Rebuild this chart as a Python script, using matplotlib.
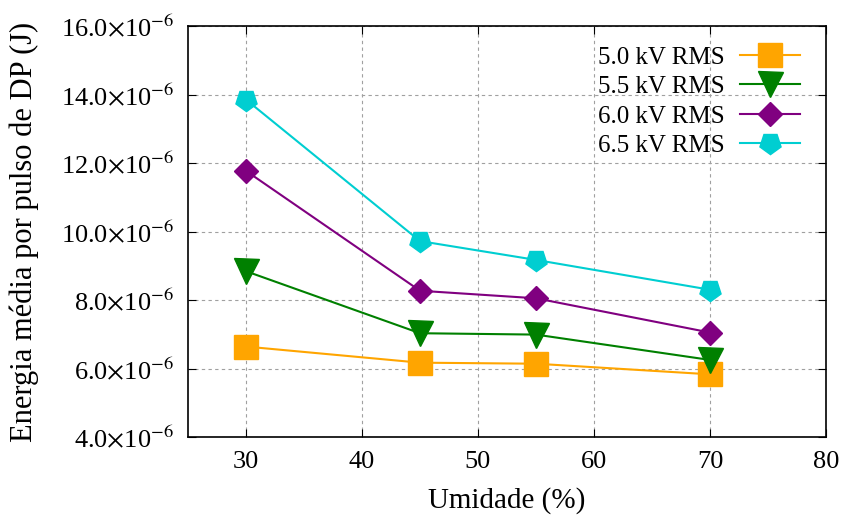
#!/usr/bin/env python3
import matplotlib
matplotlib.use("Agg")
import matplotlib.pyplot as plt
from matplotlib.ticker import FuncFormatter, MultipleLocator

humidity = [30, 45, 55, 70]
energy_50 = [6.64, 6.17, 6.14, 5.83]
energy_55 = [8.84, 7.03, 6.99, 6.25]
energy_60 = [11.77, 8.27, 8.05, 7.05]
energy_65 = [13.85, 9.72, 9.17, 8.30]
labels = ["5.0 kV RMS", "5.5 kV RMS", "6.0 kV RMS", "6.5 kV RMS"]

plt.rcParams["font.family"] = ["Liberation Serif", "DejaVu Serif"]
plt.rcParams["mathtext.fontset"] = "stix"

fig = plt.figure(figsize=(8.44, 5.15), dpi=100)
ax = fig.add_axes([188 / 844, 1 - 437 / 515, (826 - 188) / 844, (437 - 26) / 515])

# gnuplot style: square, down triangle, diamond, upside-down pentagon
series = [
    (energy_50, "#FFA500", "s", 17),
    (energy_55, "#008000", "v", 18),
    (energy_60, "#800080", "D", 12),
    (energy_65, "#00CED1", (5, 0, 180), 16),
]
for (vals, color, marker, ms), label in zip(series, labels):
    ax.plot(humidity, [v * 1e-6 for v in vals], color=color, lw=1.5,
            marker=marker, markersize=ms, label=label)

ax.set_xlim(25, 80)
ax.set_ylim(4e-6, 16e-6)
ax.xaxis.set_major_locator(MultipleLocator(10))
ax.yaxis.set_major_locator(MultipleLocator(2e-6))
ax.yaxis.set_major_formatter(
    FuncFormatter(lambda v, pos: f"{v * 1e6:.1f}$\\times$10$^{{-6}}$"))

ax.grid(True, color="#a0a0a0", linestyle=(0, (3, 3)), linewidth=0.8)
for side in ax.spines.values():
    side.set_linewidth(1.2)
ax.tick_params(direction="in", top=True, right=True, labelsize=19,
               length=6, pad=10)
ax.set_xlabel("Umidade (%)", fontsize=21, labelpad=10)
ax.set_ylabel("Energia média por pulso de DP (J)", fontsize=22, labelpad=16)

ax.legend(loc="upper right", bbox_to_anchor=(0.99, 1.0), frameon=False,
          markerfirst=False, fontsize=18, handlelength=2.4,
          labelspacing=0.28, borderaxespad=0.6, handletextpad=0.6,
          borderpad=0.2)

fig.savefig("out.png", dpi=100)
